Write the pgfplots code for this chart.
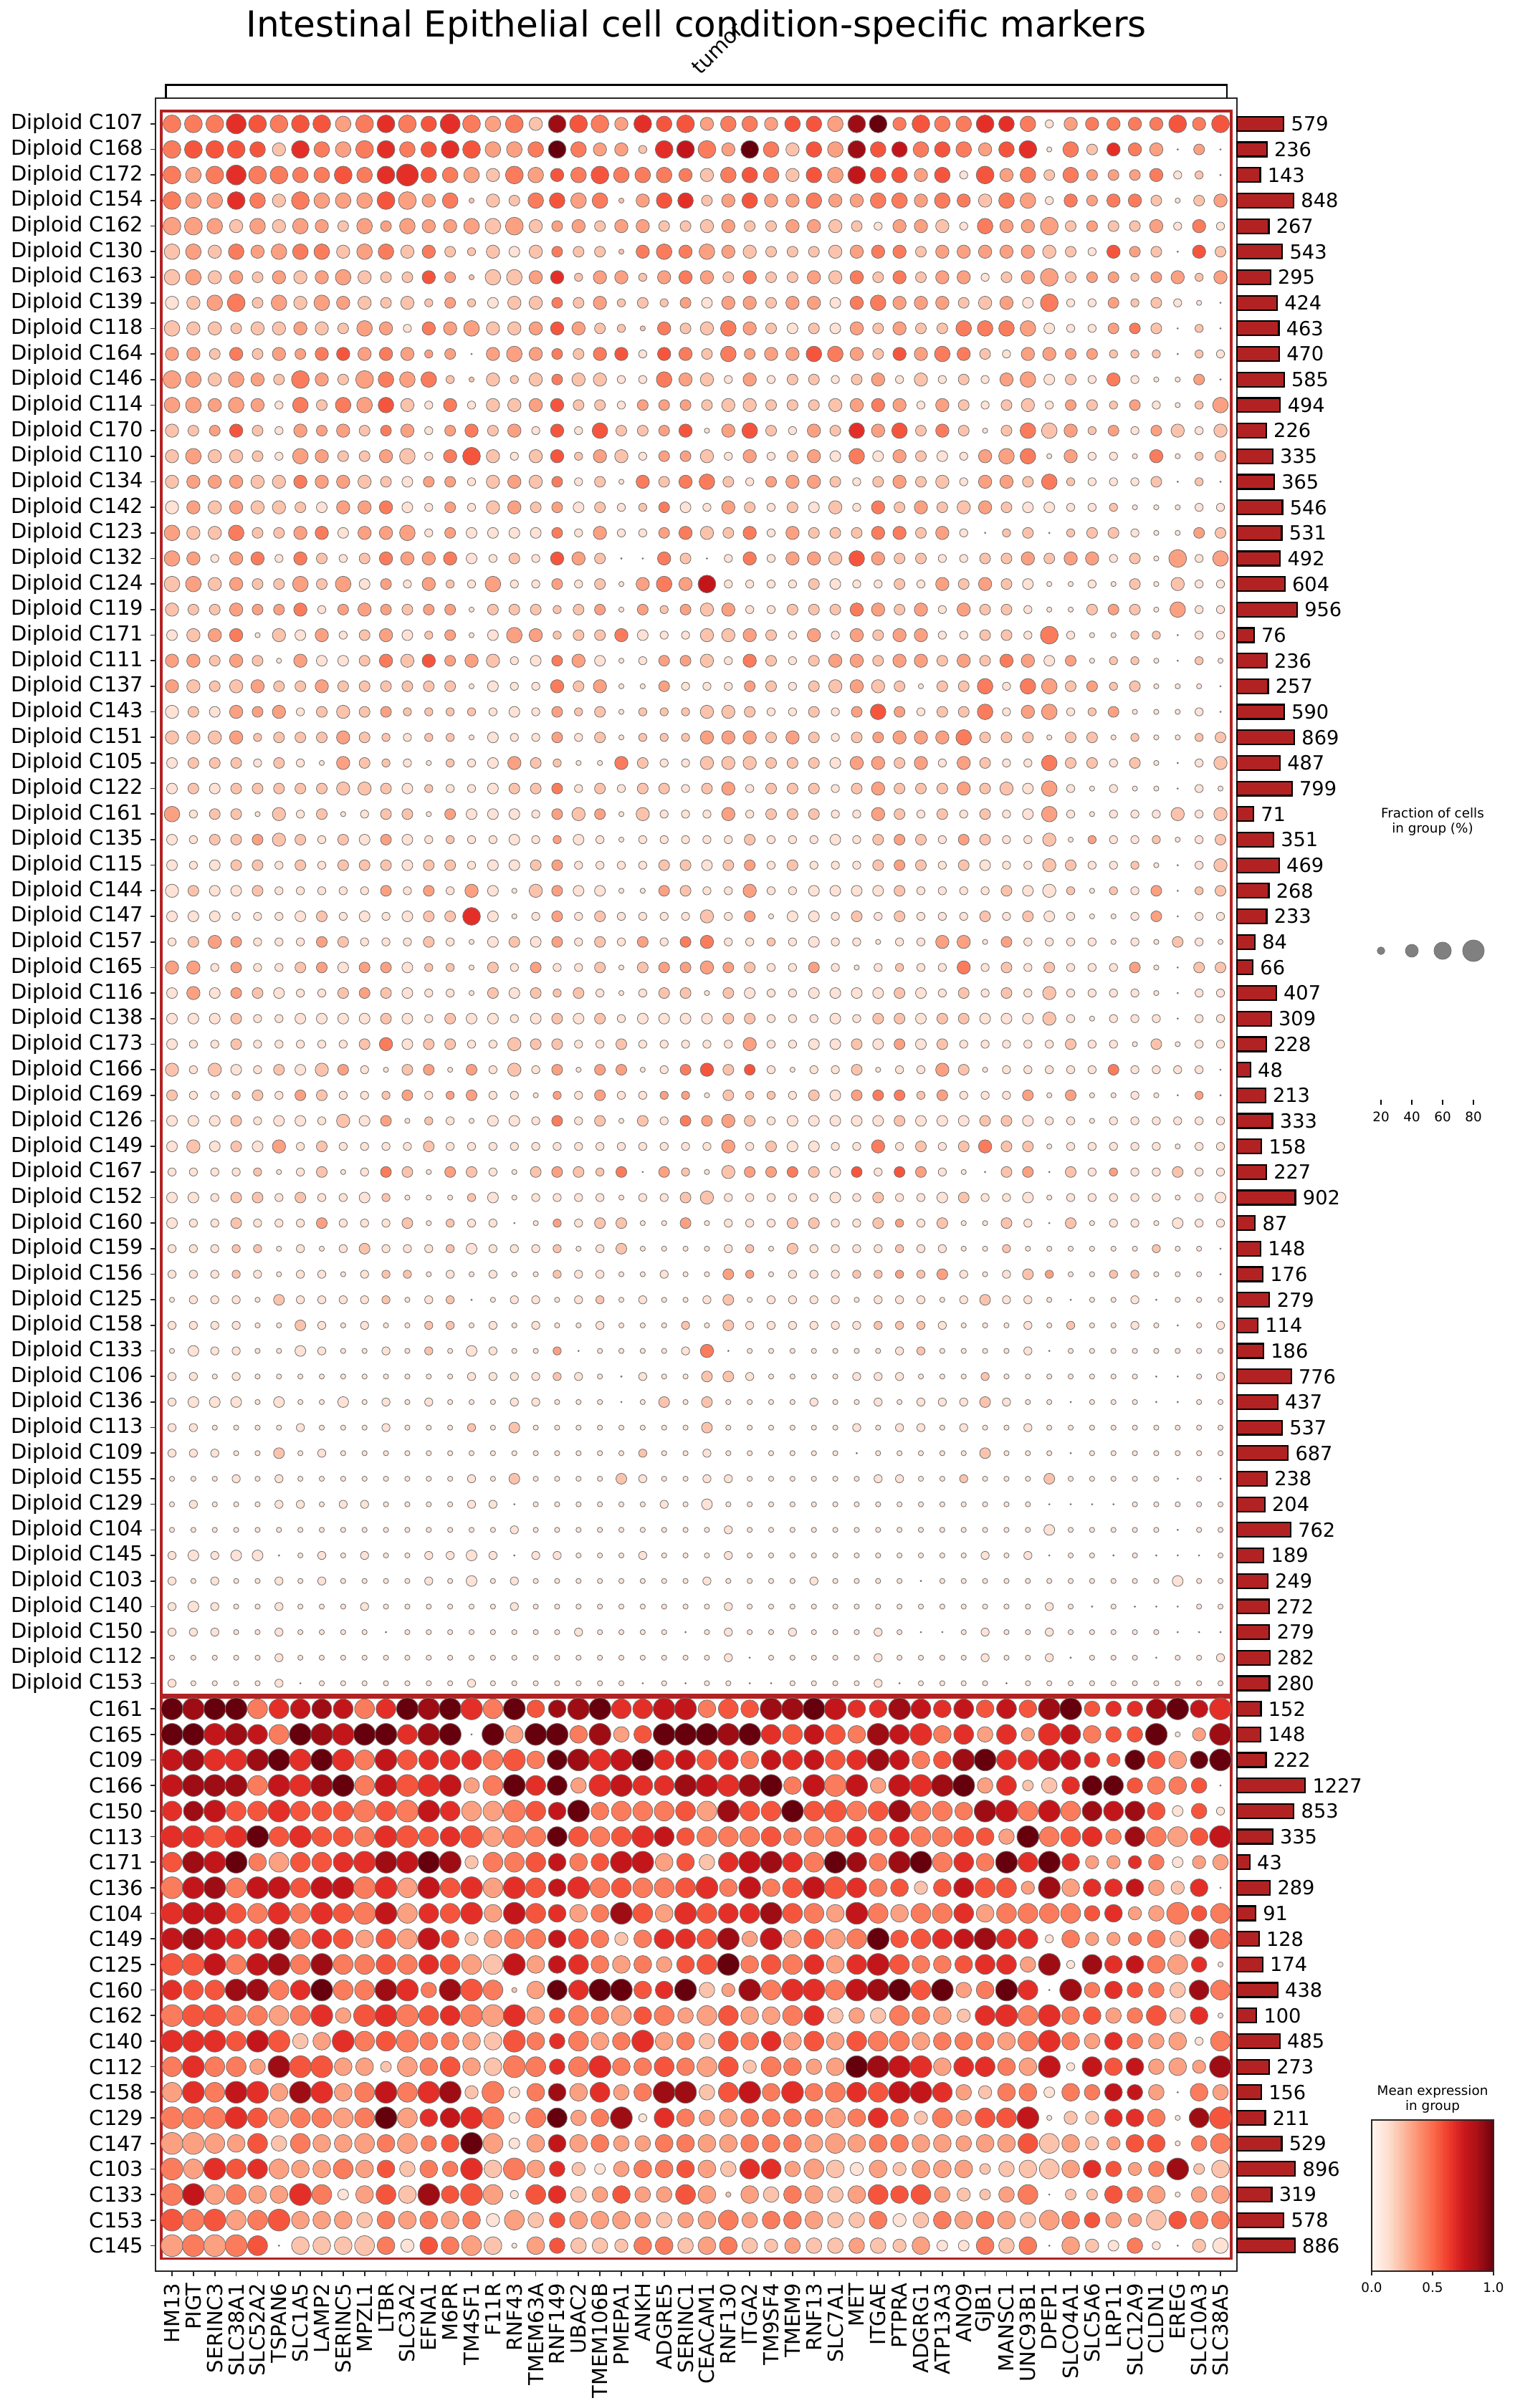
\documentclass[border=0pt]{standalone}
\usepackage{fontspec}
\setmainfont{DejaVu Sans}
\usepackage{pgfplots}
\usepackage{pgfplotstable}
\pgfplotsset{compat=1.18}
\pgfplotsset{/pgf/number format/assume math mode=true}
\pgfplotsset{colormap={reds}{rgb255=(255,245,240) rgb255=(254,224,210) rgb255=(252,187,161) rgb255=(252,146,114) rgb255=(251,106,74) rgb255=(239,59,44) rgb255=(203,24,29) rgb255=(165,15,21) rgb255=(103,0,13)}}
\definecolor{firebrick}{RGB}{178,34,34}
\newcommand{\lab}{\fontsize{10.4}{12.5}\selectfont}
\newcommand{\lgd}{\fontsize{6.6}{7.6}\selectfont}

% f-codes: fraction of cells in group, code k = about (10k+2) %
% e-codes: mean expression in group, code k = k/9
\pgfplotstableread{
f0 f1 f2 f3 f4 f5 f6 f7 f8 f9 f10 f11 f12 f13 f14 f15 f16 f17 f18 f19 f20 f21 f22 f23 f24 f25 f26 f27 f28 f29 f30 f31 f32 f33 f34 f35 f36 f37 f38 f39 f40 f41 f42 f43 f44 f45 f46 f47 f48 f49 e0 e1 e2 e3 e4 e5 e6 e7 e8 e9 e10 e11 e12 e13 e14 e15 e16 e17 e18 e19 e20 e21 e22 e23 e24 e25 e26 e27 e28 e29 e30 e31 e32 e33 e34 e35 e36 e37 e38 e39 e40 e41 e42 e43 e44 e45 e46 e47 e48 e49
6 6 6 7 6  6 6 6 5 6  6 6 5 7 6  5 6 4 6 6  6 4 6 5 6  4 5 5 4 5  5 5 6 6 4  6 5 5 6 5  5 2 4 4 4  4 4 6 4 6  4 4 4 6 5  4 5 5 3 4  6 4 5 6 4  3 4 2 8 5  4 3 6 5 5  3 4 4 3 5  5 3 8 9 4  5 4 4 6 6  4 1 3 4 4  4 4 5 4 5
6 6 6 6 5  4 6 5 5 6  6 5 5 6 6  5 5 5 6 5  4 4 2 6 6  6 4 6 5 4  5 5 6 5 5  5 5 5 4 5  6 1 5 3 4  4 4 0 3 0  4 5 5 5 5  2 6 4 3 4  6 4 5 6 5  3 3 4 9 4  3 3 2 6 7  4 3 9 4 2  5 3 8 5 7  4 5 4 3 5  6 1 4 2 6  4 3 1 3 1
6 5 6 7 6  6 5 5 6 5  6 8 5 5 5  4 6 5 4 5  6 5 5 5 4  4 5 5 5 4  5 5 6 5 5  4 5 2 6 4  5 3 5 3 3  3 4 2 2 0  4 3 4 6 4  4 4 4 5 4  6 6 5 4 3  2 4 3 5 4  5 4 4 4 4  2 4 5 4 2  5 3 7 5 5  3 5 1 5 3  4 2 4 3 3  3 4 1 2 0
6 5 5 6 5  4 6 5 5 5  6 6 4 5 1  4 3 5 5 5  5 1 4 5 5  3 4 5 4 4  5 4 4 5 5  4 5 4 4 5  5 2 4 3 4  4 3 1 3 4  4 3 3 6 4  2 4 3 3 3  5 3 3 4 2  2 2 4 5 3  4 2 3 5 6  2 3 5 3 3  4 3 3 4 4  3 4 4 2 4  3 1 4 3 4  4 2 1 2 3
6 6 5 4 5  4 5 4 3 5  3 5 4 4 5  5 6 4 3 4  3 4 4 3 3  4 4 3 3 4  4 4 3 2 4  4 4 2 5 4  4 6 3 3 3  3 4 2 4 2  3 3 3 2 3  2 3 3 2 3  3 3 3 3 3  2 3 2 3 3  2 3 3 2 2  2 3 2 2 3  3 2 2 1 3  3 2 1 4 3  3 3 2 3 2  2 3 1 4 1
5 5 4 5 4  5 5 5 4 5  5 4 4 3 2  4 3 4 3 3  3 1 4 5 4  5 4 4 3 3  3 4 4 4 4  3 4 4 4 4  4 4 3 2 4  3 3 0 4 3  2 3 2 4 3  3 4 4 2 3  4 2 4 2 2  2 1 2 4 2  2 2 4 4 4  3 3 2 2 2  2 2 3 4 4  2 3 3 3 3  3 2 2 1 5  3 2 1 5 2
5 5 4 4 3  4 4 4 5 4  3 3 4 3 1  5 5 4 4 2  4 4 2 4 4  4 3 4 3 3  4 4 4 3 4  3 4 4 2 3  4 6 3 3 3  2 3 4 2 4  2 3 2 3 2  3 2 3 3 2  2 2 5 3 2  2 2 3 6 2  3 3 2 3 4  3 2 4 2 2  3 2 4 2 4  2 3 3 1 2  3 3 2 3 3  2 3 3 2 3
4 4 5 6 3  5 4 5 4 4  3 4 2 3 2  3 4 4 3 3  4 2 3 2 3  3 4 4 3 4  4 3 4 5 4  4 4 3 4 4  3 6 2 2 3  2 3 2 1 0  1 2 3 4 2  3 2 3 3 2  2 2 2 3 2  1 2 2 4 2  3 2 2 2 3  1 3 3 2 3  3 1 4 4 3  3 3 2 2 3  1 4 1 1 3  2 2 1 1 1
5 4 4 3 4  4 4 4 3 5  4 2 4 4 5  4 4 4 4 4  3 2 1 4 3  4 5 4 3 3  3 3 4 3 4  3 3 5 5 5  5 3 2 2 3  3 3 0 2 0  2 2 2 2 2  2 3 2 2 3  3 1 4 3 3  2 2 3 5 3  2 2 2 4 2  2 4 3 2 1  2 1 3 2 3  2 2 4 4 4  3 1 1 1 3  4 2 1 2 1
4 4 3 4 3  4 3 4 4 4  4 4 2 3 0  4 5 4 3 3  4 4 2 4 4  3 5 3 4 4  5 5 4 3 4  4 5 4 3 2  4 4 3 3 2  2 2 0 2 2  3 3 2 4 2  3 3 4 5 3  4 3 3 3 2  3 3 3 4 2  4 5 1 5 4  2 4 3 3 3  5 4 3 2 5  3 4 4 2 1  3 3 3 3 2  2 2 1 2 1
6 5 4 5 4  3 6 4 3 6  5 5 5 2 1  4 2 4 3 4  4 2 2 5 4  4 2 4 2 3  3 2 3 4 2  4 2 3 2 4  5 3 3 2 4  2 1 1 3 0  3 3 2 3 3  2 4 3 2 3  4 3 4 2 2  2 2 2 4 2  2 1 1 4 3  2 1 3 1 2  2 1 2 3 1  2 1 2 1 3  3 1 2 1 4  1 1 1 3 1
5 5 4 5 4  2 5 3 5 5  5 4 2 4 2  4 4 4 4 3  3 2 3 3 3  3 4 4 3 3  3 4 4 4 4  2 4 3 2 3  4 2 3 3 2  3 2 1 2 5  3 3 3 3 3  1 4 2 4 3  5 2 1 4 1  2 2 3 5 2  2 1 3 3 3  2 2 2 2 2  2 2 3 4 3  1 3 2 1 2  2 1 3 2 2  3 1 1 2 3
4 3 3 4 3  2 4 3 4 3  3 4 2 3 4  3 4 2 4 2  5 3 3 3 4  1 4 5 3 2  4 3 5 4 5  3 4 3 1 3  5 5 4 2 3  2 3 4 2 4  2 2 3 5 2  1 3 3 3 2  4 3 1 3 4  2 3 1 5 1  5 2 2 3 5  1 3 5 2 1  3 2 6 3 5  2 4 2 1 2  4 2 3 2 3  1 3 2 1 2
4 5 4 4 3  2 5 4 3 3  4 5 2 4 6  4 2 4 4 2  4 4 2 3 3  4 2 4 2 3  4 3 5 3 4  3 3 2 4 5  5 1 4 2 2  1 4 1 2 3  2 3 2 2 2  1 3 3 2 2  3 2 1 4 5  2 1 2 5 2  3 2 1 3 3  2 1 3 1 2  3 1 4 1 3  2 1 1 3 3  4 1 3 1 1  1 4 1 2 2
4 4 4 4 4  4 4 4 4 4  3 3 3 3 2  4 4 4 3 2  3 1 4 3 4  5 3 2 3 4  4 3 2 3 4  3 4 2 4 4  3 5 2 2 2  2 3 0 2 0  2 3 3 3 2  2 4 3 3 2  2 1 3 3 1  2 3 2 4 1  2 1 4 2 4  4 2 1 3 3  3 2 1 2 3  2 2 1 3 3  2 4 2 1 1  1 2 1 2 1
4 4 4 4 4  4 3 3 4 4  4 3 2 3 2  4 4 3 3 3  3 2 2 3 3  2 4 3 2 3  3 4 2 4 3  4 3 4 4 3  3 3 2 2 2  1 1 1 2 2  1 3 2 3 2  2 2 1 3 3  4 1 1 3 1  2 3 2 3 1  2 1 2 4 1  1 3 2 1 2  1 2 1 4 2  3 2 2 3 2  1 1 1 1 2  1 1 1 1 1
5 4 4 5 3  3 4 4 3 4  4 5 2 3 3  3 3 3 3 2  4 2 2 3 4  4 3 4 2 4  3 3 3 4 4  3 4 2 0 2  3 0 2 3 3  2 1 1 3 3  3 2 2 4 2  2 3 4 1 3  3 3 1 3 1  1 1 1 4 1  3 1 1 3 4  2 2 4 1 3  2 2 2 4 4  2 3 1 1 2  2 1 2 2 2  1 1 1 3 2
5 4 2 4 4  2 4 3 2 3  4 4 4 4 3  2 3 2 4 4  3 0 0 4 3  0 2 4 2 4  4 4 5 4 3  3 2 2 3 3  4 3 4 4 2  3 1 6 2 5  3 3 1 3 4  1 4 2 1 2  4 3 3 4 1  1 2 1 5 3  2 1 1 4 2  1 1 4 1 3  3 2 5 3 2  2 1 1 2 2  3 2 3 3 1  2 1 3 1 3
5 5 4 4 3  3 5 3 5 3  3 2 4 2 2  5 2 2 3 2  3 1 4 5 4  6 2 2 2 2  3 3 2 2 3  2 4 3 4 3  3 1 1 2 1  3 1 4 2 2  2 3 2 3 2  2 3 2 3 1  3 1 3 2 1  3 1 1 3 1  2 1 3 4 3  7 1 1 1 1  2 1 1 1 2  1 3 2 3 2  1 1 1 1 1  2 1 2 1 1
4 3 3 4 3  3 4 2 3 4  3 3 3 3 1  3 3 3 2 3  3 1 3 2 3  4 4 2 2 3  3 3 4 4 3  4 2 4 3 3  2 1 1 3 3  3 1 5 2 2  2 2 2 3 3  3 4 1 3 3  3 2 3 3 1  2 2 2 2 2  3 1 3 2 3  2 3 1 1 2  2 2 4 3 2  3 1 3 2 2  1 1 1 2 3  2 1 3 1 1
3 4 4 4 1  4 3 4 2 3  4 3 2 3 1  3 5 4 2 3  3 4 3 2 2  4 4 4 3 2  4 2 4 3 4  4 2 2 3 3  2 6 2 1 1  2 2 0 2 2  1 2 3 4 1  2 1 3 1 2  3 1 2 3 1  1 3 3 2 2  2 4 1 1 1  2 2 3 2 1  3 1 3 2 3  3 1 1 2 2  1 4 1 1 1  2 2 1 1 1
4 4 3 4 3  1 4 3 3 3  4 4 4 3 4  4 2 3 3 4  3 1 2 3 3  4 2 4 3 2  3 4 4 3 4  4 3 4 3 4  4 3 3 1 2  2 1 0 2 1  3 3 2 3 2  1 3 1 1 2  4 2 5 3 3  2 1 1 4 3  1 1 1 3 3  2 1 4 2 1  2 3 3 2 3  3 2 3 2 4  3 1 3 1 2  2 1 1 2 1
4 4 3 4 4  3 3 4 3 3  3 3 3 3 1  3 2 2 4 3  4 1 1 3 2  2 2 3 3 2  3 4 4 4 3  1 3 3 5 2  5 5 3 3 2  3 1 1 1 0  3 2 2 2 3  2 2 3 2 2  2 2 2 2 1  1 1 1 4 2  3 1 1 3 1  1 1 3 2 1  2 2 3 2 2  1 2 2 4 1  4 3 2 3 2  2 1 1 1 1
4 3 3 4 3  4 2 3 4 3  3 2 2 2 2  2 3 2 3 2  3 1 2 2 2  4 4 3 2 2  3 2 3 5 3  2 3 3 5 2  4 5 2 2 3  1 1 1 2 0  1 2 1 3 3  3 1 2 2 2  3 2 2 2 2  1 1 1 3 2  2 1 2 2 2  2 2 2 1 1  2 1 3 5 3  1 2 2 4 1  3 3 1 2 3  1 1 1 1 1
4 4 4 4 2  3 3 3 4 3  2 2 2 2 1  3 2 2 3 2  3 1 2 2 2  4 4 4 3 4  3 2 3 3 4  4 4 5 3 3  3 1 3 3 1  2 1 1 2 3  2 2 2 3 2  2 2 2 3 2  2 1 2 2 1  1 1 1 3 1  2 1 2 2 2  3 3 3 2 3  2 1 2 3 3  3 3 4 2 2  2 1 2 2 1  2 1 1 2 2
3 3 3 3 2  3 2 1 4 3  2 2 1 2 2  3 4 3 2 1  1 4 3 2 2  4 4 4 3 3  3 3 4 4 3  4 2 4 3 2  2 5 3 3 2  3 1 0 2 4  1 2 2 2 1  2 1 1 3 2  2 1 1 2 1  1 3 2 2 1  1 4 2 1 1  2 2 2 2 2  2 1 3 3 2  3 1 3 2 1  1 4 2 2 1  2 1 1 1 2
3 3 3 3 3  3 3 3 4 4  3 3 2 2 2  3 3 3 3 2  3 2 3 3 2  3 4 2 3 3  3 2 3 4 3  3 3 4 3 4  3 5 2 1 2  1 1 0 2 1  1 2 1 2 2  2 2 2 2 2  2 1 2 1 1  1 2 2 4 1  2 1 2 2 1  2 3 1 2 2  2 1 2 3 2  2 2 3 2 2  1 3 1 1 1  1 1 1 1 1
5 2 3 3 1  4 2 3 1 2  3 3 1 3 3  3 3 2 3 4  3 1 4 2 2  2 4 2 3 3  3 2 2 4 3  2 3 2 3 2  3 5 2 1 2  2 2 4 2 4  3 1 2 2 1  2 1 2 1 1  2 2 1 3 1  1 1 1 3 2  3 1 2 1 1  1 3 1 2 2  2 1 1 3 2  1 2 1 2 1  1 3 1 1 1  1 1 2 1 2
3 2 3 3 3  4 3 2 3 3  3 3 2 2 2  2 3 2 2 3  2 1 2 2 2  2 2 3 2 2  2 3 2 3 3  3 2 3 3 2  2 4 1 2 2  2 2 1 2 3  1 1 2 2 3  2 2 1 2 1  3 1 1 2 1  1 1 1 3 1  1 1 1 1 1  1 1 2 1 1  1 1 1 2 3  2 1 3 2 1  1 2 1 3 1  1 2 1 1 2
3 2 3 3 3  2 3 2 3 3  3 3 3 3 2  3 3 3 3 2  2 2 2 3 3  3 3 3 2 3  2 2 2 3 3  3 2 3 3 2  2 4 3 2 2  2 1 0 2 4  1 1 1 2 2  1 2 1 2 2  2 1 2 2 1  1 1 2 3 1  1 1 1 2 2  1 2 3 1 2  1 1 1 2 3  2 1 2 1 1  1 2 2 1 1  2 1 1 1 2
4 3 3 3 3  2 2 2 2 2  3 2 3 2 4  3 1 4 3 3  3 1 1 3 3  2 2 4 2 2  3 3 3 3 3  2 2 2 2 3  3 4 2 1 2  2 3 0 2 3  1 2 1 1 2  1 1 1 1 1  3 1 3 1 3  1 1 2 3 1  1 1 1 3 2  1 1 3 1 1  1 1 1 1 2  1 1 1 1 2  1 1 2 1 2  1 3 1 2 2
3 3 3 2 2  2 3 3 2 3  2 3 3 3 6  3 1 2 3 2  3 2 2 2 2  4 2 3 1 3  3 2 3 2 3  2 2 2 3 2  3 3 2 1 1  2 3 0 2 2  1 1 1 1 1  1 1 2 1 1  1 1 2 2 6  1 1 1 3 1  2 1 1 1 1  2 1 3 1 1  1 1 2 1 2  1 1 1 2 1  2 1 1 1 1  1 3 0 1 1
2 3 4 3 2  2 2 3 3 2  2 2 3 2 1  3 3 3 3 2  3 2 3 2 3  4 2 2 2 2  3 2 2 1 2  2 4 4 1 3  2 2 2 2 1  2 1 3 2 1  1 2 3 3 1  1 1 3 2 1  1 1 2 1 1  1 2 1 3 1  2 1 3 1 4  4 1 1 2 1  1 1 1 1 1  1 3 3 1 3  1 1 1 1 1  1 1 2 1 1
4 4 2 3 2  2 3 3 3 3  3 3 2 2 1  3 2 3 2 2  3 1 3 3 3  4 3 3 2 2  3 2 1 2 2  2 2 4 2 3  2 3 2 2 2  3 1 0 3 3  3 3 1 3 1  1 2 3 1 3  3 1 2 2 1  2 1 3 1 1  2 1 2 3 3  3 3 2 1 1  3 1 1 1 2  1 1 4 1 2  1 2 1 1 1  3 1 1 2 2
3 4 3 3 3  3 2 2 3 3  3 3 2 2 1  3 3 3 2 3  2 1 2 3 3  1 3 3 2 2  3 3 3 3 3  3 2 3 2 3  2 4 2 2 2  2 1 0 2 2  1 3 1 3 2  1 1 1 2 3  2 1 1 1 1  2 1 2 2 2  1 1 1 2 2  1 2 1 1 1  1 1 1 1 2  1 1 2 1 2  1 2 1 1 1  1 1 1 1 1
3 3 3 3 2  2 3 3 3 3  3 3 2 3 3  3 2 3 3 3  3 2 3 3 3  3 3 3 2 2  2 3 2 3 3  3 3 3 3 3  3 4 2 1 2  2 2 0 2 2  1 1 1 2 1  1 1 1 1 1  2 1 1 2 1  1 1 1 2 1  2 1 1 1 1  1 2 2 1 1  1 1 1 2 2  1 2 2 1 1  1 2 1 1 1  1 1 1 1 1
3 2 2 3 2  2 2 2 2 3  4 3 3 3 2  2 4 3 3 2  2 3 2 2 2  2 2 4 2 2  3 3 3 3 3  3 3 2 2 2  2 2 3 2 2  1 3 1 2 2  1 1 1 2 1  1 1 1 1 2  4 1 2 2 1  1 2 2 2 1  1 2 1 1 1  1 1 3 1 1  1 1 2 1 3  1 2 1 1 1  1 1 2 1 1  1 2 1 1 1
4 2 4 3 2  3 3 4 3 2  1 3 3 1 3  2 4 2 3 1  3 3 1 2 3  4 3 3 2 1  2 2 3 1 2  2 4 3 1 2  2 2 2 2 3  2 2 2 2 0  2 1 2 1 1  2 1 2 3 1  1 2 3 1 3  1 2 1 3 1  3 3 1 1 4  5 2 5 1 1  1 1 2 1 1  1 3 2 1 1  1 1 1 1 4  1 1 1 1 0
3 2 2 2 3  2 3 3 2 2  2 3 2 2 3  2 2 1 2 2  3 2 2 2 2  1 3 2 2 2  3 3 3 3 3  2 3 2 2 2  3 1 3 1 1  2 1 0 2 0  2 1 1 2 2  1 3 2 1 1  2 3 1 3 3  1 1 1 3 1  3 1 1 3 3  1 2 2 2 1  2 1 3 4 4  2 3 1 1 1  3 1 3 1 1  1 1 1 3 1
3 3 3 3 2  3 3 2 4 3  3 1 2 2 1  3 3 2 3 2  3 1 3 2 3  3 4 3 2 3  3 3 3 3 3  3 3 3 3 3  3 2 2 1 2  2 2 2 2 2  1 1 1 2 1  1 1 1 2 1  3 1 2 1 1  1 1 1 4 1  2 1 2 1 4  3 3 2 1 1  1 1 1 1 2  1 1 1 2 2  1 1 1 1 1  1 1 1 1 1
3 4 3 3 3  4 2 3 2 2  2 2 3 2 2  2 2 2 2 2  2 2 2 2 2  2 4 2 3 3  3 2 2 4 2  3 2 3 4 3  3 1 2 2 2  2 2 1 2 2  1 2 1 2 1  3 1 2 1 1  1 1 2 1 1  1 1 1 1 1  1 1 1 1 1  1 3 1 2 1  1 1 1 4 1  2 1 2 4 2  2 1 1 1 1  1 1 1 1 1
2 2 2 2 2  1 2 3 1 2  3 3 1 3 3  2 1 3 3 3  2 3 0 3 2  1 4 3 3 3  3 3 3 2 3  3 2 1 0 3  3 0 3 2 2  2 2 3 2 2  1 1 1 1 2  1 1 2 1 1  4 2 1 3 2  1 1 2 3 2  2 4 1 3 2  1 2 3 3 4  2 1 5 1 5  3 1 1 1 2  3 1 2 1 3  1 1 2 1 1
3 3 2 3 3  2 3 2 2 3  2 1 1 1 2  3 1 2 2 2  2 1 2 2 3  4 2 2 2 2  2 3 2 3 2  2 3 3 2 2  3 1 2 2 2  2 2 1 2 3  1 1 1 2 2  1 2 1 1 1  2 1 1 1 2  1 1 1 1 1  1 1 1 1 2  2 1 1 1 1  1 1 1 2 1  1 1 2 1 1  1 1 1 1 1  1 1 1 1 1
3 2 2 3 2  2 2 3 2 2  2 3 1 2 2  2 0 1 2 2  3 3 1 1 3  1 2 2 2 3  3 2 2 3 2  2 3 1 1 3  2 0 3 1 2  2 1 3 2 2  1 1 1 2 1  1 1 3 1 1  1 2 1 2 1  1 1 1 3 1  2 2 1 1 3  1 1 1 1 2  2 1 1 2 3  1 2 1 1 2  1 1 2 1 1  1 1 1 1 1
2 2 2 2 2  1 2 1 2 3  2 2 2 2 3  2 2 2 2 1  2 3 1 1 1  1 2 2 1 3  2 2 2 2 2  2 2 1 1 2  1 1 1 1 1  1 2 1 1 0  1 1 1 2 2  1 1 1 1 2  1 1 1 2 1  1 1 1 2 1  1 2 1 1 1  1 1 2 1 2  1 1 1 1 2  1 1 1 1 2  1 1 1 1 1  1 2 1 1 1
2 2 2 2 2  1 2 2 1 2  2 2 1 2 1  2 1 1 2 2  2 1 1 2 1  1 3 2 1 2  2 2 2 2 2  2 3 2 1 2  3 2 1 1 2  2 1 1 1 0  1 1 1 2 1  1 1 1 1 1  2 2 1 1 1  1 1 1 2 1  1 1 1 1 1  1 3 3 1 1  1 1 2 2 3  2 3 1 1 1  2 3 1 1 2  2 1 1 1 1
1 2 2 2 1  3 2 2 2 2  2 1 2 2 0  1 2 2 1 2  2 1 2 1 1  2 3 1 2 2  2 2 1 2 2  2 1 2 3 2  2 1 0 1 1  2 0 1 1 1  1 1 1 1 1  2 1 1 1 1  2 1 1 2 1  1 1 1 1 1  2 1 1 1 1  1 2 1 1 1  1 1 1 1 1  1 1 1 2 1  1 1 1 1 1  1 1 1 1 1
2 2 2 2 1  1 3 2 1 2  1 1 2 2 1  2 1 2 1 1  2 1 1 1 2  1 3 2 2 2  2 2 2 2 2  2 2 1 1 1  2 1 2 1 1  2 1 0 1 2  1 1 1 1 1  1 2 1 1 1  1 1 2 2 1  1 1 1 1 1  1 1 1 1 2  1 2 1 1 1  1 1 1 2 2  2 1 1 1 1  1 1 2 1 1  1 1 1 1 1
1 3 2 2 1  1 3 2 1 1  2 1 2 1 3  2 1 1 2 0  1 1 1 1 2  4 0 1 1 1  1 1 1 1 2  2 1 1 1 1  2 0 1 1 1  1 1 1 1 1  1 1 1 1 1  1 1 1 1 1  1 1 2 1 1  1 1 1 3 1  1 1 1 1 1  4 1 1 1 1  1 1 1 1 1  2 1 1 1 1  1 1 1 1 1  1 1 1 1 1
2 2 1 2 1  1 1 1 1 1  1 1 1 1 2  2 2 2 2 2  1 0 2 1 1  3 3 2 1 1  1 1 2 2 2  1 1 1 2 1  1 1 1 1 1  1 0 0 1 2  1 1 1 1 1  1 1 1 1 1  1 1 1 1 1  1 1 1 2 1  1 1 1 1 1  2 2 1 1 1  1 1 1 1 1  1 1 1 2 1  1 1 1 1 1  1 1 1 1 1
2 3 3 3 1  3 1 1 3 1  2 1 2 1 1  1 2 2 1 1  1 0 1 3 1  3 1 1 1 1  2 1 1 2 1  2 2 2 3 2  1 1 0 1 1  1 0 0 1 1  1 1 1 1 1  1 1 1 1 1  1 1 1 1 1  1 1 1 1 1  1 1 1 2 1  2 1 1 1 1  1 1 1 1 1  1 1 1 2 1  1 1 1 1 1  1 1 1 1 1
2 2 1 1 1  1 2 1 1 1  2 1 1 1 2  1 3 1 1 1  1 1 1 1 1  3 1 1 1 1  1 1 2 1 2  2 1 2 1 1  2 1 1 1 1  1 1 1 1 1  1 1 1 1 1  1 1 1 1 1  1 1 1 1 2  1 2 1 1 1  1 1 1 1 1  2 1 1 1 1  1 1 1 1 1  1 1 1 1 1  1 1 1 1 1  1 1 1 1 1
2 2 2 1 1  3 1 2 1 1  1 1 1 1 1  1 1 1 1 1  1 1 2 1 1  2 1 1 1 1  1 1 0 1 1  1 1 1 3 1  1 1 0 1 1  1 1 1 1 1  1 1 1 1 1  2 1 1 1 1  1 1 1 1 1  1 1 1 1 1  1 1 2 1 1  1 1 1 1 1  1 1 1 1 1  1 1 1 2 1  1 1 1 1 1  1 1 1 1 1
1 1 1 2 1  2 1 1 1 1  1 1 1 1 2  1 3 1 1 1  1 3 2 1 1  2 2 1 1 1  1 1 1 2 2  1 1 2 1 1  1 3 1 1 1  1 1 0 1 0  1 1 1 1 1  1 1 1 1 1  1 1 1 1 1  1 2 1 1 1  1 2 1 1 1  1 1 1 1 1  1 1 1 1 1  1 1 2 1 1  1 2 1 1 1  1 1 1 1 1
1 2 1 1 1  2 2 1 2 2  1 1 1 1 2  2 0 1 1 1  1 1 1 2 1  3 1 1 1 1  1 1 1 1 1  1 1 1 1 1  1 0 0 0 0  1 1 1 1 1  1 1 1 1 1  1 1 1 1 1  1 1 1 1 1  1 1 1 1 1  1 1 1 1 1  1 1 1 1 1  1 1 1 1 1  1 1 1 1 1  1 1 1 1 1  1 1 1 1 1
1 1 1 1 1  1 1 1 1 1  1 1 1 1 1  1 2 1 1 1  1 1 1 1 1  1 2 1 1 1  1 1 1 1 1  1 1 1 1 1  1 3 1 1 1  1 1 0 1 1  1 1 1 1 1  1 1 1 1 1  1 1 1 1 1  1 1 1 1 1  1 1 1 1 1  1 1 1 1 1  1 1 1 1 1  1 1 1 1 1  1 1 1 1 1  1 1 1 1 1
2 3 2 3 3  0 1 2 1 2  1 1 2 2 3  2 0 2 2 1  1 1 2 1 1  1 2 1 1 1  1 1 1 1 1  1 1 1 2 1  2 0 1 1 0  1 0 0 0 1  1 1 1 1 1  1 1 1 1 1  1 1 1 1 1  1 1 1 1 1  1 1 1 1 1  1 1 1 1 1  1 1 1 1 1  1 1 1 1 1  1 1 1 1 1  1 1 1 1 1
2 1 2 1 1  2 1 2 1 1  1 1 2 1 3  1 2 1 1 1  1 1 1 1 1  2 1 1 1 1  2 1 1 1 1  0 1 1 1 1  1 1 1 1 1  1 1 3 1 1  1 1 1 1 1  1 1 1 1 1  1 1 1 1 1  1 1 1 1 1  1 1 1 1 1  1 1 1 1 1  1 1 1 1 1  1 1 1 1 1  1 1 1 1 1  1 1 1 1 1
2 3 2 1 1  2 1 1 1 2  1 1 1 1 1  1 2 1 1 1  1 1 1 1 1  1 2 1 1 1  1 1 1 1 1  1 1 1 1 1  1 2 1 0 1  0 0 0 1 1  1 1 1 1 1  1 1 1 1 1  1 1 1 1 1  1 1 1 1 1  1 1 1 1 1  1 1 1 1 1  1 1 1 1 1  1 1 1 1 1  1 1 1 1 1  1 1 1 1 1
2 2 2 1 1  2 1 1 1 1  0 1 1 1 1  1 1 1 1 2  1 1 1 1 0  1 2 1 1 2  1 1 1 2 1  0 0 1 2 1  1 2 1 1 1  1 1 0 0 0  1 1 1 1 1  1 1 1 1 1  1 1 1 1 1  1 1 1 1 1  1 1 1 1 1  1 1 1 1 1  1 1 1 1 1  1 1 1 1 1  1 1 1 1 1  1 1 1 1 1
1 1 1 1 1  2 1 1 1 1  1 1 1 1 1  1 1 1 1 1  1 1 1 1 1  1 2 0 1 1  1 1 1 2 1  1 1 1 2 1  1 2 0 1 1  1 0 1 1 2  1 1 1 1 1  1 1 1 1 1  1 1 1 1 1  1 1 1 1 1  1 1 1 1 1  1 1 1 1 1  1 1 1 1 1  1 1 1 1 1  1 1 1 1 1  1 1 1 1 1
2 1 1 1 1  2 0 1 1 1  1 1 1 1 2  1 1 1 1 1  1 1 0 1 0  1 1 0 0 1  1 1 1 2 0  1 1 1 1 0  1 1 1 1 1  1 1 1 1 1  1 1 1 1 1  1 1 1 1 1  1 1 1 1 1  1 1 1 1 1  1 1 1 1 1  1 1 1 1 1  1 1 1 1 1  1 1 1 1 1  1 1 1 1 1  1 1 1 1 1
8 8 8 8 7  7 7 7 7 7  7 8 8 8 8  7 8 6 6 8  8 7 7 8 8  6 7 6 8 8  8 8 6 6 8  7 6 7 6 7  6 8 8 5 5  5 7 8 6 8  9 8 9 9 4  6 7 8 7 4  6 9 8 9 6  4 9 5 8 8  9 6 6 7 7  4 5 5 8 8  9 7 6 6 8  7 6 7 5 7  5 8 9 5 6  6 8 9 7 6
8 8 8 8 7  7 8 8 8 8  8 7 8 8 0  8 6 8 8 6  8 5 6 8 8  8 8 8 7 7  7 7 6 8 7  8 6 7 5 7  4 8 7 6 5  5 8 1 4 8  9 9 7 8 7  4 9 8 7 9  9 6 8 9 2  9 3 9 9 4  8 3 5 9 9  9 8 9 6 5  7 5 4 8 7  6 4 6 3 6  3 6 7 4 5  5 9 1 3 8
8 8 8 8 8  8 8 8 8 7  8 7 7 7 7  7 8 6 7 8  8 8 8 7 7  7 7 6 7 7  7 7 7 8 7  6 6 8 8 7  7 8 7 5 4  7 6 6 6 8  7 8 6 6 8  9 6 9 6 4  7 5 6 6 6  4 5 4 9 8  6 7 9 6 7  5 6 4 7 6  7 5 6 8 7  4 5 8 9 6  6 7 7 6 5  9 5 3 9 9
8 8 8 8 7  8 8 8 8 7  8 8 8 8 5  7 8 7 7 5  8 8 7 7 8  8 8 8 8 6  8 8 8 5 8  8 8 8 5 7  3 5 6 7 7  5 6 6 5 0  7 8 8 8 4  7 6 8 9 4  7 5 6 7 3  4 9 6 9 3  6 7 6 6 8  7 6 8 9 4  7 4 7 3 7  6 8 9 3 6  2 2 6 9 9  5 4 4 5 1
7 7 8 7 7  8 7 7 7 8  7 8 8 7 7  7 8 7 6 8  6 7 7 7 7  7 8 7 7 8  7 8 7 7 8  7 7 6 8 8  7 8 7 7 7  7 6 3 5 2  6 8 7 5 5  6 5 5 5 4  5 4 7 6 3  3 4 5 7 9  4 4 4 4 5  3 8 5 5 9  5 5 4 5 8  4 4 4 8 7  4 7 4 8 7  8 5 1 5 1
8 8 8 8 8  7 8 7 7 7  8 8 7 7 8  7 8 7 7 7  7 7 8 7 6  7 7 7 7 6  7 7 7 6 7  7 7 7 6 5  8 7 7 7 5  7 7 7 6 8  6 6 5 6 9  5 6 5 5 4  6 5 5 6 5  3 4 4 9 5  4 5 6 7 5  4 4 4 5 4  4 4 6 4 6  4 4 5 5 3  9 4 5 6 4  8 4 3 5 7
7 8 8 8 6  7 7 7 7 8  8 8 8 8 4  7 7 7 6 6  6 8 8 6 6  5 7 8 8 7  7 8 7 6 8  8 7 7 6 8  7 8 6 4 4  4 5 3 4 5  5 8 7 9 4  3 5 5 6 6  8 7 9 8 2  4 4 5 7 4  5 7 7 3 5  2 6 7 8 6  4 9 8 4 8  9 4 6 4 9  6 9 6 3 3  6 4 1 3 3
8 8 8 7 8  8 7 8 8 8  8 7 8 7 8  7 8 7 6 8  7 7 7 7 7  8 6 8 6 7  8 8 7 6 6  4 6 7 7 7  4 8 6 6 6  6 5 4 6 0  4 7 8 4 7  7 5 7 7 4  6 3 7 5 6  3 6 5 7 6  4 5 4 4 5  6 4 7 4 5  7 5 6 4 5  2 5 7 5 5  3 8 3 6 6  7 3 2 6 1
8 8 8 7 7  8 7 8 7 8  8 7 7 7 8  6 8 7 6 6  6 8 7 6 8  7 7 7 8 7  7 6 8 7 6  7 7 7 6 7  7 7 7 5 6  4 5 8 5 7  6 7 7 5 4  6 4 6 5 4  7 3 6 5 6  3 7 5 6 3  4 8 5 3 6  5 6 6 8 5  4 3 7 4 3  4 4 6 3 4  4 4 4 5 6  3 3 4 5 4
8 8 8 7 7  8 7 7 7 6  7 7 8 6 4  6 7 7 6 7  6 4 6 7 7  7 8 5 8 6  7 7 7 8 6  7 7 7 8 7  7 2 6 4 4  4 6 5 7 7  7 8 7 6 6  8 4 6 5 3  5 3 7 5 2  3 4 4 7 5  4 2 4 6 6  5 8 3 7 3  5 3 4 9 5  5 6 7 8 6  6 1 4 3 3  4 4 2 8 4
8 8 8 7 8  8 7 8 7 7  7 7 7 7 7  7 8 6 6 7  6 6 6 5 6  7 8 6 7 7  7 6 7 8 7  6 6 6 7 7  5 8 2 7 6  6 6 7 5 1  5 5 7 4 7  8 4 8 4 4  5 4 6 5 3  2 7 3 7 6  4 3 4 3 5  5 9 4 5 4  6 3 6 7 5  4 4 5 6 6  3 8 1 8 6  7 4 3 6 1
7 7 7 8 8  7 7 8 7 7  8 8 5 8 8  7 1 6 7 7  8 8 6 6 8  5 4 8 7 8  8 7 8 8 8  7 8 5 6 8  7 0 8 5 6  5 5 5 7 7  6 5 5 8 8  4 6 9 4 4  8 6 4 8 5  4 2 3 9 6  9 9 5 6 9  2 3 8 4 6  6 4 7 8 9  5 9 3 4 9  6 1 8 4 6  5 4 2 8 4
8 8 8 7 7  7 7 8 5 8  8 8 7 7 8  8 8 6 5 7  6 7 6 7 5  7 7 6 6 7  7 5 5 5 7  6 6 4 7 8  7 8 6 6 5  5 7 5 6 1  4 5 5 4 4  3 4 6 3 5  6 4 5 6 4  3 6 3 5 4  4 3 5 4 3  3 5 3 3 4  6 2 3 2 4  4 3 2 6 6  4 6 4 5 3  4 5 2 6 1
8 8 8 7 8  8 5 6 8 7  7 8 6 6 6  6 8 6 5 7  6 6 8 6 6  5 7 6 7 6  7 6 7 7 7  6 6 6 6 6  7 8 6 5 6  5 5 6 2 7  6 6 6 5 7  5 2 3 6 4  5 4 4 4 3  2 5 4 6 4  3 4 6 3 4  2 5 4 6 3  5 3 5 4 4  3 4 4 4 3  4 6 4 3 6  4 3 3 1 4
7 8 7 7 5  8 8 8 6 6  3 7 6 7 6  6 8 7 5 7  8 6 6 7 6  7 7 4 7 6  5 6 8 8 8  8 6 7 7 6  6 8 2 7 6  6 5 6 4 8  4 6 4 4 3  8 5 5 3 3  2 3 4 5 3  2 4 4 6 4  6 4 4 5 4  3 5 2 4 4  3 3 9 8 7  6 3 6 6 4  3 7 1 7 5  7 3 3 3 8
7 8 7 8 8  6 8 8 6 7  8 7 8 8 4  8 3 6 6 6  7 5 6 8 8  5 7 8 6 8  6 7 7 7 8  8 7 5 4 6  6 3 6 5 6  5 5 0 6 5  3 6 4 7 6  3 8 6 3 4  7 4 6 8 2  4 1 4 8 3  6 3 4 8 8  2 5 7 4 6  4 4 6 5 7  7 6 3 2 4  4 1 4 4 7  7 3 1 4 3
8 8 8 8 7  7 7 7 7 7  8 7 6 7 8  8 3 7 7 5  6 8 2 7 6  5 6 6 6 6  6 7 6 7 6  4 7 5 7 7  8 1 4 4 6  6 6 1 7 8  4 4 4 6 5  3 4 4 3 4  9 3 6 7 6  4 1 4 9 3  4 8 1 6 4  3 3 4 4 4  4 3 4 6 4  2 4 3 5 5  7 1 2 2 6  6 4 1 8 5
8 8 7 6 7  5 7 6 6 7  6 7 5 6 8  7 3 6 6 6  6 5 5 6 6  6 6 6 6 6  6 7 6 6 6  6 6 5 6 6  7 7 6 4 4  6 6 1 5 7  3 3 3 3 5  2 4 3 3 3  4 3 4 5 9  3 1 3 7 3  4 3 3 4 4  3 3 4 4 4  3 3 3 4 4  3 3 3 3 3  5 2 3 2 3  5 5 1 4 4
8 7 8 7 7  7 6 6 7 6  6 5 6 5 8  6 8 6 5 4  3 5 6 6 6  6 5 7 7 5  7 6 4 6 4  6 6 6 3 5  6 7 6 6 5  4 5 8 3 6  4 3 6 5 6  3 3 3 4 3  5 2 4 4 6  2 4 3 6 2  1 3 4 4 5  3 2 6 6 3  3 2 1 3 2  3 3 3 2 2  2 2 3 6 5  3 4 8 2 2
8 8 7 7 6  6 8 7 3 6  7 6 8 6 8  7 2 7 6 5  5 6 5 5 7  6 1 6 5 6  6 5 6 7 6  7 5 4 3 5  7 0 3 3 6  5 6 1 5 6  4 7 3 4 3  3 6 4 1 3  5 2 8 5 5  3 1 5 6 2  3 5 3 3 5  3 2 3 2 4  3 2 3 5 5  5 3 2 2 3  4 0 2 2 5  4 3 1 3 3
8 8 8 7 7  8 6 6 6 5  6 6 6 6 6  4 7 5 5 6  6 6 5 5 5  6 7 5 6 6  6 5 5 6 4  5 6 6 6 6  5 7 6 5 5  4 7 6 6 6  5 4 5 3 4  5 3 3 3 2  4 3 4 3 4  1 3 2 5 3  3 3 3 2 3  3 4 3 4 4  3 2 2 4 1  2 4 3 4 3  2 3 4 5 3  3 2 5 4 4
8 8 8 8 7  0 6 6 6 7  6 4 6 6 7  6 1 6 5 5  5 4 6 6 5  6 6 5 4 5  5 5 5 5 4  6 3 3 6 5  6 0 6 4 3  5 2 0 4 5  3 4 3 4 5  1 2 2 2 2  4 1 5 4 3  2 1 3 5 2  2 2 4 4 2  3 4 2 2 3  2 2 3 2 2  3 1 1 4 2  4 0 3 2 1  4 1 1 2 1
}\dottab

\pgfplotstableread{
i n
0 579
1 236
2 143
3 848
4 267
5 543
6 295
7 424
8 463
9 470
10 585
11 494
12 226
13 335
14 365
15 546
16 531
17 492
18 604
19 956
20 76
21 236
22 257
23 590
24 869
25 487
26 799
27 71
28 351
29 469
30 268
31 233
32 84
33 66
34 407
35 309
36 228
37 48
38 213
39 333
40 158
41 227
42 902
43 87
44 148
45 176
46 279
47 114
48 186
49 776
50 437
51 537
52 687
53 238
54 204
55 762
56 189
57 249
58 272
59 279
60 282
61 280
62 152
63 148
64 222
65 1227
66 853
67 335
68 43
69 289
70 91
71 128
72 174
73 438
74 100
75 485
76 273
77 156
78 211
79 529
80 896
81 319
82 578
83 886
}\bartab

\begin{document}
\begin{tikzpicture}
\useasboundingbox (0pt,0pt) rectangle (760.68pt,-1209.96pt);

% ---------------- dot plot ----------------
\begin{axis}[
  name=dots,
  at={(78.12pt,-1141.2pt)}, anchor=south west,
  scale only axis, width=543.24pt, height=1091.88pt,
  xmin=-0.77, xmax=49.77, ymin=-1, ymax=84, y dir=reverse,
  clip=false,
  axis line style={draw=black!85, line width=0.6pt},
  tick align=outside, xtick pos=left, ytick pos=left,
  major tick length=2.5pt,
  tick style={draw=black!85, line width=0.6pt},
  xtick={0,...,49},
  xticklabels={HM13,PIGT,SERINC3,SLC38A1,SLC52A2,TSPAN6,SLC1A5,LAMP2,SERINC5,MPZL1,LTBR,SLC3A2,EFNA1,M6PR,TM4SF1,F11R,RNF43,TMEM63A,RNF149,UBAC2,TMEM106B,PMEPA1,ANKH,ADGRE5,SERINC1,CEACAM1,RNF130,ITGA2,TM9SF4,TMEM9,RNF13,SLC7A1,MET,ITGAE,PTPRA,ADGRG1,ATP13A3,ANO9,GJB1,MANSC1,UNC93B1,DPEP1,SLCO4A1,SLC5A6,LRP11,SLC12A9,CLDN1,EREG,SLC10A3,SLC38A5},
  ytick={0,...,83},
  yticklabels={Diploid C107,Diploid C168,Diploid C172,Diploid C154,Diploid C162,Diploid C130,Diploid C163,Diploid C139,Diploid C118,Diploid C164,Diploid C146,Diploid C114,Diploid C170,Diploid C110,Diploid C134,Diploid C142,Diploid C123,Diploid C132,Diploid C124,Diploid C119,Diploid C171,Diploid C111,Diploid C137,Diploid C143,Diploid C151,Diploid C105,Diploid C122,Diploid C161,Diploid C135,Diploid C115,Diploid C144,Diploid C147,Diploid C157,Diploid C165,Diploid C116,Diploid C138,Diploid C173,Diploid C166,Diploid C169,Diploid C126,Diploid C149,Diploid C167,Diploid C152,Diploid C160,Diploid C159,Diploid C156,Diploid C125,Diploid C158,Diploid C133,Diploid C106,Diploid C136,Diploid C113,Diploid C109,Diploid C155,Diploid C129,Diploid C104,Diploid C145,Diploid C103,Diploid C140,Diploid C150,Diploid C112,Diploid C153,C161,C165,C109,C166,C150,C113,C171,C136,C104,C149,C125,C160,C162,C140,C112,C158,C129,C147,C103,C133,C153,C145},
  xticklabel style={rotate=90, anchor=east, font=\lab},
  yticklabel style={font=\lab},
  colormap name=reds,
  point meta min=0, point meta max=1,
]
\pgfplotsinvokeforeach{0,...,49}{
  \addplot[scatter, only marks, mark=*, scatter src=explicit,
    mark options={line width=0.3pt},
    scatter/use mapped color={draw=black!55, fill=mapped color},
    visualization depends on={\thisrow{f#1} \as \fr},
    scatter/@pre marker code/.append style={/tikz/mark size={6.372*(0.1*\fr+0.02)^0.75}}]
    table[x expr=#1, y expr=\coordindex, meta expr=\thisrow{e#1}/9] {\dottab};
}
\draw[firebrick, line width=1.2pt] (axis cs:-0.5,-0.5) rectangle (axis cs:49.5,61.45);
\draw[firebrick, line width=1.2pt] (axis cs:-0.5,61.55) rectangle (axis cs:49.5,83.5);
\draw[black, line width=0.85pt] (axis cs:-0.29,-1) -- (axis cs:-0.29,-1.53) -- (axis cs:49.29,-1.53) -- (axis cs:49.29,-1);
\end{axis}

% ---------------- totals bars ----------------
\begin{axis}[
  at={(621.36pt,-1141.2pt)}, anchor=south west,
  scale only axis, width=97.78pt, height=1091.88pt,
  xmin=0, xmax=100, ymin=-1, ymax=84, y dir=reverse,
  hide axis, clip=false,
  xbar, bar width=0.56,
  nodes near coords, nodes near coords align={horizontal},
  every node near coord/.append style={font=\fontsize{9.8}{11}\selectfont, anchor=west, text=black},
  point meta=explicit,
  /pgf/number format/1000 sep={},
]
\addplot[fill=firebrick, draw=black, line width=0.8pt]
  table[x expr={sqrt(\thisrow{n})}, y=i, meta=n] {\bartab};
\end{axis}

% ---------------- size legend ----------------
\begin{axis}[
  at={(693.72pt,-552.6pt)}, anchor=south west,
  scale only axis, width=46.44pt, height=149.76pt,
  xmin=20, xmax=80, ymin=-1, ymax=1, clip=false,
  axis line style={draw=none}, ytick=\empty,
  xtick={20,40,60,80}, xtick pos=left, tick align=outside,
  major tick length=2.5pt, tick style={draw=black, line width=0.6pt},
  xticklabel style={font=\lgd},
  point meta min=0, point meta max=100,
]
\addplot[scatter, only marks, mark=*, scatter src=explicit,
  mark options={line width=0.3pt},
  scatter/use mapped color={draw=black!55, fill=black!50},
  visualization depends on={\thisrow{f} \as \fr},
  scatter/@pre marker code/.append style={/tikz/mark size={6.372*(\fr/100)^0.75}}]
  table[x=f, y=y, meta=f, row sep=\\] {f y\\ 20 0\\ 40 0\\ 60 0\\ 80 0\\};
\end{axis}

% ---------------- colour bar ----------------
\begin{axis}[
  at={(689.04pt,-1141.2pt)}, anchor=south west,
  scale only axis, width=61.2pt, height=75.96pt,
  xmin=0, xmax=1, ymin=0, ymax=1, axis on top,
  ytick=\empty, xtick={0,0.5,1}, xticklabels={0.0,0.5,1.0},
  xtick pos=left, tick align=outside, major tick length=2.2pt,
  tick style={draw=black!85, line width=0.5pt},
  axis line style={draw=black!85, line width=0.5pt},
  xticklabel style={font=\lgd},
  colormap name=reds, point meta min=0, point meta max=1,
]
\addplot[surf, shader=flat corner, mesh/rows=2, point meta=x, draw=none] coordinates {
(0,0) (0.02,0) (0.04,0) (0.06,0) (0.08,0) (0.1,0) (0.12,0) (0.14,0) (0.16,0) (0.18,0) (0.2,0) (0.22,0) (0.24,0) (0.26,0) (0.28,0) (0.3,0) (0.32,0) (0.34,0) (0.36,0) (0.38,0) (0.4,0) (0.42,0) (0.44,0) (0.46,0) (0.48,0) (0.5,0) (0.52,0) (0.54,0) (0.56,0) (0.58,0) (0.6,0) (0.62,0) (0.64,0) (0.66,0) (0.68,0) (0.7,0) (0.72,0) (0.74,0) (0.76,0) (0.78,0) (0.8,0) (0.82,0) (0.84,0) (0.86,0) (0.88,0) (0.9,0) (0.92,0) (0.94,0) (0.96,0) (0.98,0) (1,0)
(0,1) (0.02,1) (0.04,1) (0.06,1) (0.08,1) (0.1,1) (0.12,1) (0.14,1) (0.16,1) (0.18,1) (0.2,1) (0.22,1) (0.24,1) (0.26,1) (0.28,1) (0.3,1) (0.32,1) (0.34,1) (0.36,1) (0.38,1) (0.4,1) (0.42,1) (0.44,1) (0.46,1) (0.48,1) (0.5,1) (0.52,1) (0.54,1) (0.56,1) (0.58,1) (0.6,1) (0.62,1) (0.64,1) (0.66,1) (0.68,1) (0.7,1) (0.72,1) (0.74,1) (0.76,1) (0.78,1) (0.8,1) (0.82,1) (0.84,1) (0.86,1) (0.88,1) (0.9,1) (0.92,1) (0.94,1) (0.96,1) (0.98,1) (1,1)
};
\end{axis}

% ---------------- texts ----------------
\begin{scope}[x=0.36pt, y=-0.36pt]
\node[anchor=base, font=\fontsize{18}{21}\selectfont, inner sep=0pt] at (971.5,52) {Intestinal Epithelial cell condition-specific markers};
\node[anchor=base west, rotate=45, font=\lab, inner sep=0pt] at (977,106) {tumor};
\node[align=center, font=\lgd, inner sep=0pt] at (1999,1146.5) {Fraction of cells\\in group (\%)};
\node[align=center, font=\lgd, inner sep=0pt] at (1999,2929.5) {Mean expression\\in group};
\end{scope}
\end{tikzpicture}
\end{document}
